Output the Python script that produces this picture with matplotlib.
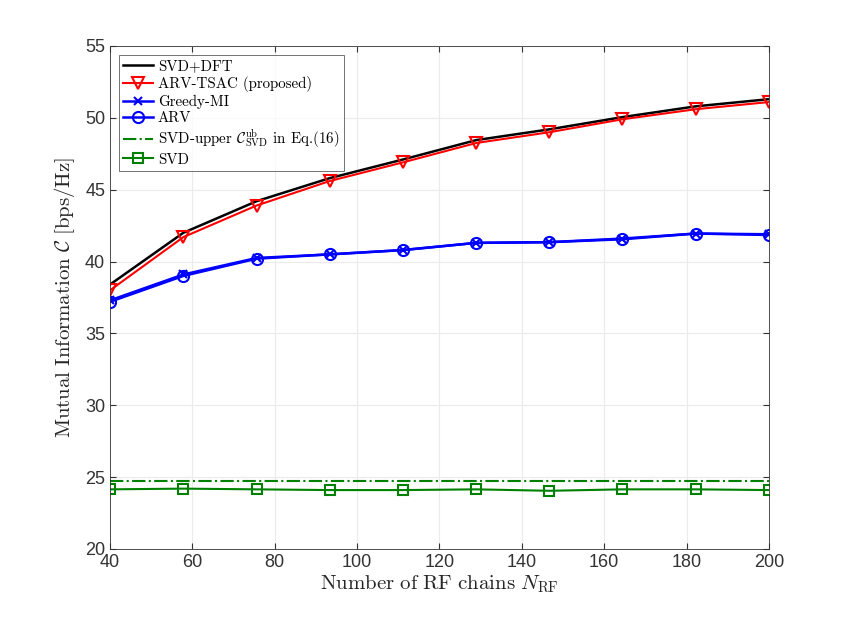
import matplotlib
matplotlib.use("Agg")
import matplotlib.pyplot as plt

plt.rcParams['mathtext.fontset'] = 'cm'
plt.rcParams['font.family'] = ['Liberation Sans', 'DejaVu Sans']

# --- data ---
n_rf = [40, 57.8, 75.6, 93.3, 111.1, 128.9, 146.7, 164.4, 182.2, 200]
svd_dft = [38.4, 42.0, 44.2, 45.8, 47.1, 48.45, 49.2, 50.05, 50.8, 51.3]
arv_tsac = [38.0, 41.7, 43.9, 45.6, 46.9, 48.25, 49.0, 49.9, 50.6, 51.1]
greedy_mi = [37.3, 39.1, 40.25, 40.5, 40.8, 41.3, 41.35, 41.6, 41.95, 41.9]
arv = [37.2, 39.0, 40.2, 40.5, 40.8, 41.3, 41.35, 41.55, 41.95, 41.85]
svd_upper = 24.72
svd = [24.15, 24.2, 24.15, 24.1, 24.1, 24.15, 24.05, 24.15, 24.15, 24.1]

fig = plt.figure(figsize=(8.5, 6.19), dpi=100)
ax = fig.add_axes([0.1294, 0.1131, 0.7753, 0.8126])

ax.plot(n_rf, svd_dft, color='black', lw=1.8, label='SVD+DFT')
ax.plot(n_rf, arv_tsac, color='red', lw=1.5, marker='v', ms=9, mfc='none', mew=1.5,
        label='ARV-TSAC (proposed)')
ax.plot(n_rf, greedy_mi, color='blue', lw=1.8, marker='x', ms=6, mew=1.5, label='Greedy-MI')
ax.plot(n_rf, arv, color='blue', lw=1.8, marker='o', ms=8, mfc='none', mew=1.5, label='ARV')
ax.plot([n_rf[0], n_rf[-1]], [svd_upper, svd_upper], color='green', lw=1.5, ls='-.',
        label=r'SVD-upper $\mathcal{C}^{\rm ub}_{\rm SVD}$ in Eq.(16)')
ax.plot(n_rf, svd, color='green', lw=1.5, marker='s', ms=7, mfc='none', mew=1.5, label='SVD')

ax.set_xlim(40, 200)
ax.set_ylim(20, 55)
ax.set_xticks(range(40, 201, 20))
ax.set_yticks(range(20, 56, 5))
ax.tick_params(direction='in', labelsize=13, length=4, colors='#333333', top=True, right=True,
               labeltop=False, labelright=False)
for s in ax.spines.values():
    s.set_color('#333333')
    s.set_linewidth(0.6)
ax.grid(True, color='#ebebeb', lw=0.8)
ax.set_axisbelow(True)

ax.set_xlabel(r'$\mathrm{Number\ of\ RF\ chains}\ N_{\rm RF}$', fontsize=15, color='#262626', labelpad=2)
ax.set_ylabel(r'$\mathrm{Mutual\ Information}\ \mathcal{C}\ \mathrm{[bps/Hz]}$', fontsize=15,
              color='#262626', labelpad=6)

leg = ax.legend(loc='upper left', prop={'family': 'cmr10', 'size': 10.8},
                fancybox=False, edgecolor='#333333', borderaxespad=0.6,
                handlelength=2.0, labelspacing=0.18, borderpad=0.3, handletextpad=0.3)
leg.get_frame().set_linewidth(0.6)

fig.savefig('out.png', dpi=100)
